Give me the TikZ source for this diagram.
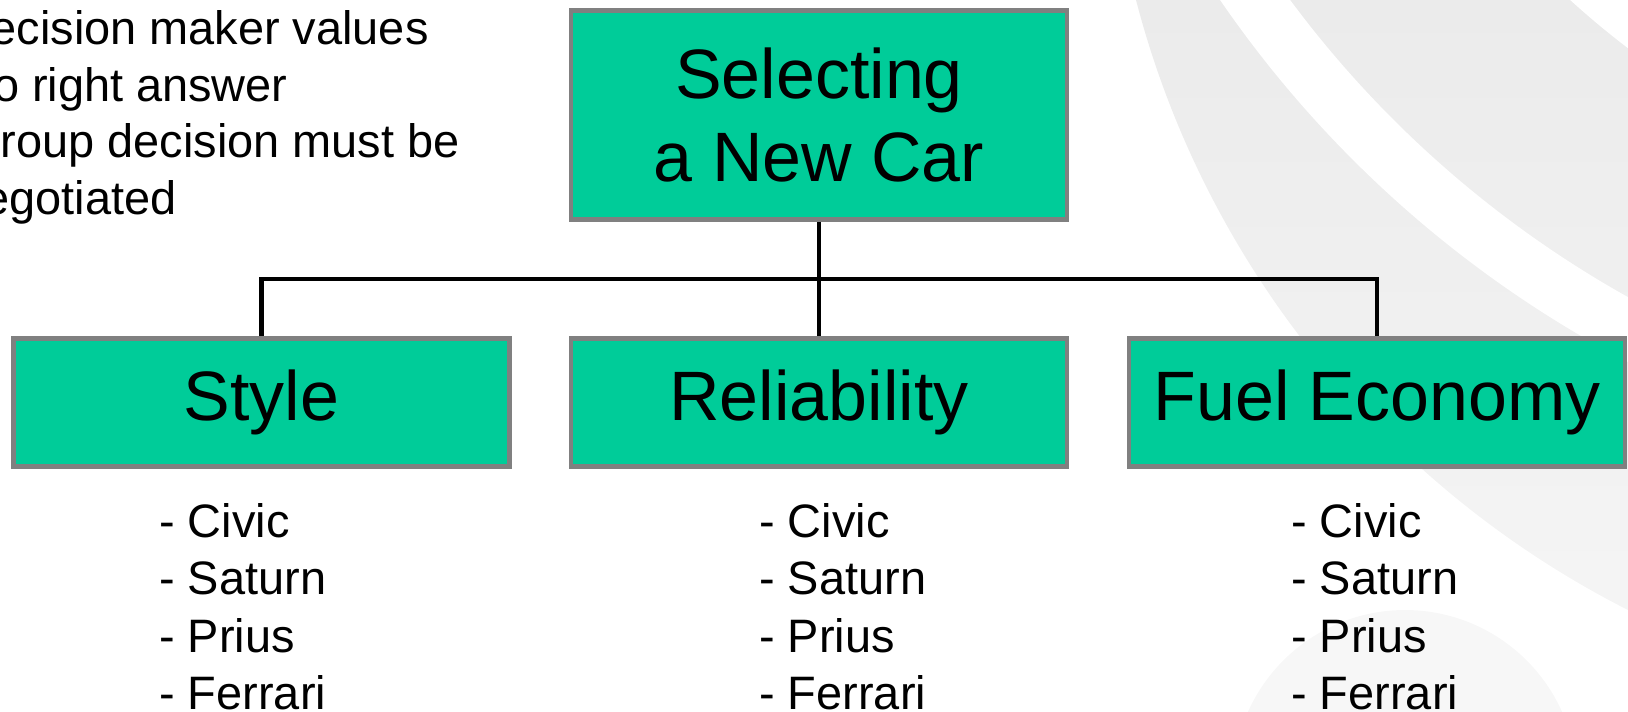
\documentclass[tikz,border=0pt]{standalone}
\usepackage{fontspec}
\setmainfont{Liberation Sans}
\usetikzlibrary{calc}
\definecolor{boxgreen}{HTML}{00CC99}
\definecolor{boxline}{HTML}{808080}
\definecolor{swoosh}{HTML}{EBEBEB}
\definecolor{swooshlight}{HTML}{F6F6F6}
\definecolor{domegray}{HTML}{F7F7F7}

\begin{document}
\begin{tikzpicture}
        [x=0.02cm,y=-0.02cm,
         box/.style={rectangle, draw=boxline, fill=boxgreen, line width=0.09cm,
           minimum width=9.92cm, minimum height=2.57cm, inner sep=0pt,
           align=center, font=\fontsize{39.8}{47}\selectfont},
         item/.style={anchor=base west, inner sep=0pt, font=\fontsize{26.7}{32}\selectfont},
         note/.style={anchor=base east, inner sep=0pt, font=\fontsize{26.7}{32}\selectfont},
         link/.style={line width=0.09cm}]
        \useasboundingbox (0,0) rectangle (1628,712);
        \clip (0,0) rectangle (1628,712);
        %-----background
        \coordinate (swA) at (2058.4,-240.5);
        \coordinate (swB) at (2148.7,-636.1);
        \begin{scope}
          \clip (swA) circle[radius=19.064cm];
          \shade[top color=swoosh, bottom color=swooshlight] (1000,0) rectangle (1628,712);
        \end{scope}
        \fill[white, even odd rule] (swB) circle[radius=22.514cm] (swB) circle[radius=21.374cm];
        \fill[white] (swB) circle[radius=17.2cm];
        \fill[domegray] (1405,782) circle[radius=3.44cm];

        %-----note
        \node[note] (n1) at (429,45) {ecision maker values};
        \node[note] (n2) at (288,102) {o right answer};
        \node[note] (n3) at (460,158) {roup decision must be};
        \node[note] (n4) at (177,215) {egotiated};

        %-----boxes
        \node[box, minimum height=4.19cm] (car) at (819,115) {Selecting\\a New Car};
        \node[box] (sty) at (261.5,402.5) {Style};
        \node[box] (rel) at (819,402.5) {Reliability};
        \node[box] (fuel) at (1377,402.5) {Fuel Economy};
        \coordinate (bus) at (819,279);

        \draw[link] (car) -- (rel);
        \foreach \to in {sty,fuel}
        \draw[link] (bus) -| (\to);

        %-----lists
        \foreach \col/\x in {sty/159,rel/759,fuel/1291}
          \foreach \car [count=\i] in {Civic,Saturn,Prius,Ferrari}
            \node[item] (\col\i) at (\x,{537+57.5*(\i-1)}) {- \car};

\end{tikzpicture}
\end{document}
